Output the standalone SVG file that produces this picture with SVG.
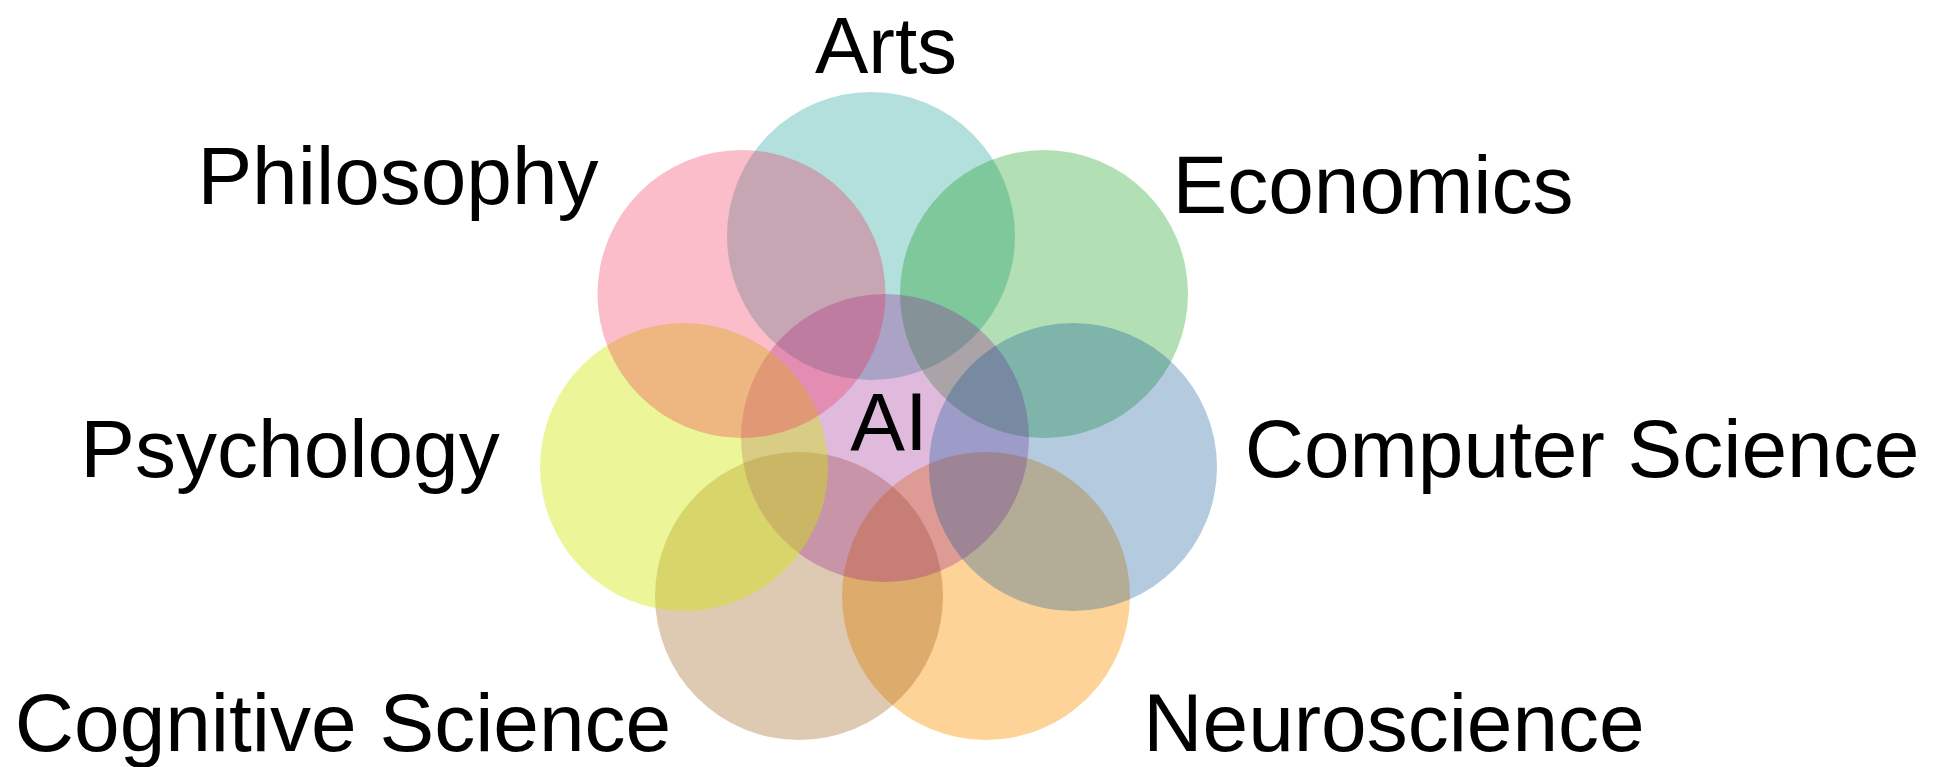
<svg xmlns="http://www.w3.org/2000/svg" width="1946" height="767" viewBox="0 0 1946 767">
<style>
  text { font-family: "Liberation Sans", Arial, sans-serif; font-size: 82px; fill: #000; text-anchor: middle; }
  circle { stroke: none; }
</style>
<rect width="1946" height="767" fill="#ffffff"/>
<g id="neuroscience"><circle cx="986" cy="596" r="144" fill="rgb(253,150,10)" fill-opacity="0.42"/></g>
<g id="cognitive-science"><circle cx="799" cy="596" r="144" fill="rgb(145,78,2)" fill-opacity="0.3"/></g>
<g id="arts"><circle cx="871" cy="236" r="144" fill="rgb(2,148,142)" fill-opacity="0.3"/></g>
<g id="economics"><circle cx="1044" cy="294" r="144" fill="rgb(2,148,8)" fill-opacity="0.3"/></g>
<g id="ai"><circle cx="885" cy="438" r="144" fill="rgb(148,28,142)" fill-opacity="0.3"/></g>
<g id="psychology"><circle cx="684" cy="467" r="144" fill="rgb(208,233,0)" fill-opacity="0.4"/></g>
<g id="philosophy"><circle cx="741.5" cy="294" r="144" fill="rgb(242,35,78)" fill-opacity="0.3"/></g>
<g id="computer-science"><circle cx="1073" cy="467" r="144" fill="rgb(5,82,148)" fill-opacity="0.3"/></g>
<g id="labels">
  <text x="886" y="73" style="font-size:80px">Arts</text>
  <text x="398" y="204">Philosophy</text>
  <text x="1373" y="213">Economics</text>
  <text x="290" y="477">Psychology</text>
  <text x="1582" y="477">Computer Science</text>
  <text x="343" y="751">Cognitive Science</text>
  <text x="1394" y="751">Neuroscience</text>
  <text x="889" y="450">AI</text>
</g>
<g id="connectors"></g>
</svg>
